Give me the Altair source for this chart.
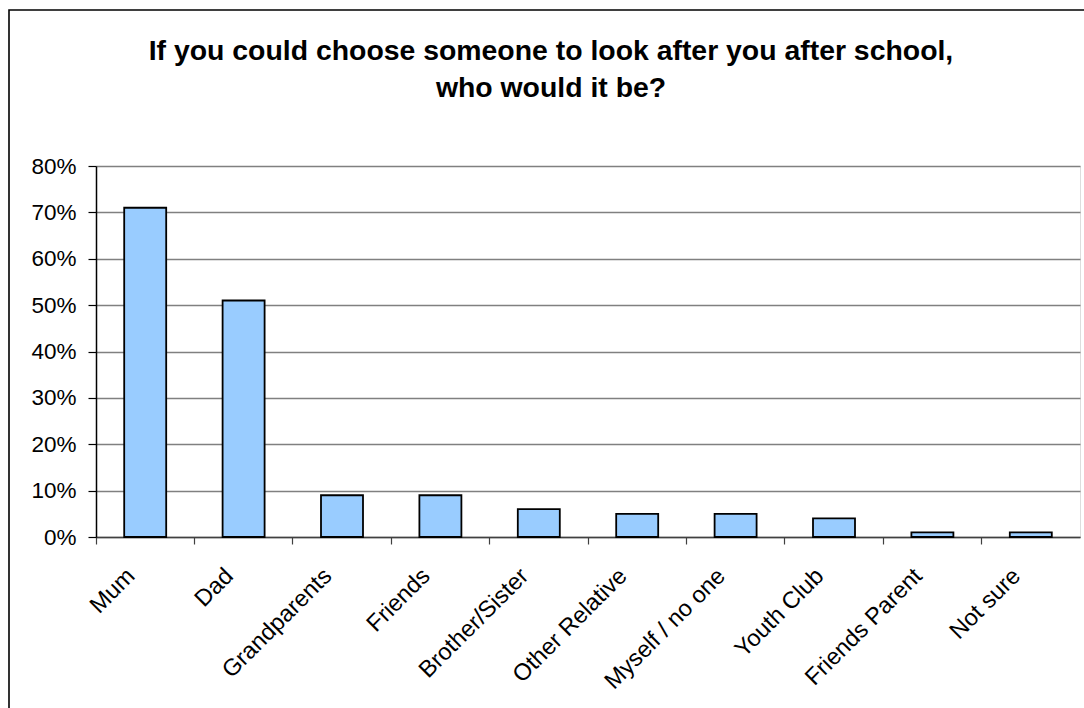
import altair as alt
import pandas as pd

categories = ["Mum", "Dad", "Grandparents", "Friends", "Brother/Sister",
              "Other Relative", "Myself / no one", "Youth Club", "Friends Parent", "Not sure"]
values = [0.71, 0.51, 0.09, 0.09, 0.06, 0.05, 0.05, 0.04, 0.01, 0.01]
y_ticks = [0, 0.1, 0.2, 0.3, 0.4, 0.5, 0.6, 0.7, 0.8]
title_lines = ["If you could choose someone to look after you after school,", "who would it be?"]

df = pd.DataFrame({"who": categories, "share": values})
FONT = "Liberation Sans"
W, H = 984, 371

bars = alt.Chart(df).mark_bar(
    color="#99CCFF", stroke="#000000", strokeWidth=1.8, width=42
).encode(
    x=alt.X("who:N", sort=categories, title=None,
            scale=alt.Scale(paddingInner=0, paddingOuter=0),
            axis=alt.Axis(labelAngle=-45, bandPosition=0, labelOffset=-9,
                          labelAlign="right", labelBaseline="alphabetic",
                          labelFontSize=23.5, labelFont=FONT, labelColor="#000000",
                          domainColor="#404040", domainWidth=1.5,
                          tickColor="#404040", tickSize=7, tickWidth=1.2,
                          labelPadding=33, grid=False)),
    y=alt.Y("share:Q", title=None,
            scale=alt.Scale(domain=[0, 0.8], nice=False),
            axis=alt.Axis(values=y_ticks, format=".0%", labelFontSize=22.5, labelFont=FONT,
                          labelColor="#000000", domainColor="#000000", domainWidth=1.5,
                          tickColor="#000000", tickSize=8, tickWidth=1.2, labelPadding=12,
                          grid=True, gridColor="#808080", gridWidth=1.3)),
)

border = alt.Chart(alt.Data(values=[{"k": 1}])).mark_rect(
    fill=None, stroke="#000000", strokeWidth=1.6
).encode(
    x=alt.value(-87), x2=alt.value(1010), y=alt.value(-156), y2=alt.value(560)
)

title1 = alt.Chart(alt.Data(values=[{"t": title_lines[0]}])).mark_text(
    font=FONT, fontSize=28.4, fontWeight="bold", color="#000000", align="center", baseline="alphabetic"
).encode(x=alt.value(455), y=alt.value(-106), text="t:N")

title2 = alt.Chart(alt.Data(values=[{"t": title_lines[1]}])).mark_text(
    font=FONT, fontSize=28.4, fontWeight="bold", color="#000000", align="center", baseline="alphabetic"
).encode(x=alt.value(455), y=alt.value(-69), text="t:N")

chart = alt.layer(bars, border, title1, title2).properties(
    width=W, height=H,
    autosize=alt.AutoSizeParams(type="none"),
    padding={"left": 96, "top": 166, "right": 4, "bottom": 171},
).configure_view(
    stroke="#808080", strokeWidth=2
).configure(background="#ffffff")

chart.save("out.html", embed_options={"renderer": "svg", "actions": False})
